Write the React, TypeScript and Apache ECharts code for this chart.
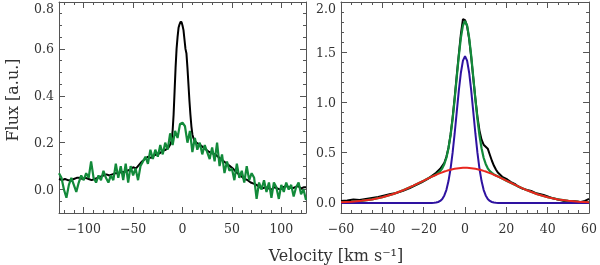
import React, { useEffect, useRef } from "react";
import * as echarts from "echarts";

// ---------- Left panel data ----------
const leftBlackX = [-125,-122,-119,-116,-113,-110,-107,-104,-101,-98,-95,-92,-89,-86,-83,-80,-77,-74,-71,-68,-65,-62,-59,-56,-53,-50,-47,-44,-41,-38,-35,-32,-29,-26,-23,-20,-17,-14,-12,-11,-10,-9,-8,-7,-6,-5,-4,-3,-2,-1,0,1,2,3,4,5,6,7,8,9,10,11,12,14,16,18,21,24,27,30,33,36,39,42,45,48,51,54,57,60,63,66,69,72,75,78,81,84,87,90,93,96,99,102,105,108,111,114,117,120,123,125];
const leftBlackY = [0.045,0.04,0.045,0.04,0.04,0.045,0.05,0.05,0.045,0.05,0.045,0.04,0.045,0.05,0.055,0.06,0.065,0.06,0.065,0.07,0.07,0.075,0.075,0.08,0.085,0.095,0.09,0.105,0.12,0.13,0.14,0.135,0.145,0.15,0.155,0.165,0.17,0.18,0.195,0.21,0.25,0.32,0.42,0.52,0.6,0.65,0.69,0.705,0.715,0.715,0.7,0.68,0.64,0.6,0.58,0.52,0.45,0.38,0.32,0.27,0.235,0.22,0.21,0.2,0.195,0.19,0.18,0.17,0.16,0.155,0.15,0.14,0.13,0.12,0.11,0.1,0.09,0.075,0.065,0.055,0.045,0.04,0.03,0.025,0.02,0.01,0.005,0.01,0.005,0.0,0.01,0.005,0.0,0.01,0.015,0.01,0.005,0.01,0.015,0.005,0.01,0.01];

const leftGreenX = [-125,-122.5,-120,-117.5,-115,-112.5,-110,-107.5,-105,-102.5,-100,-97.5,-95,-92.5,-90,-87.5,-85,-82.5,-80,-77.5,-75,-72.5,-70,-67.5,-65,-62.5,-60,-57.5,-55,-52.5,-50,-47.5,-45,-42.5,-40,-37.5,-35,-32.5,-30,-27.5,-25,-22.5,-20,-17.5,-15,-12.5,-10,-7.5,-5,-2.5,0,2.5,5,7.5,10,12.5,15,17.5,20,22.5,25,27.5,30,32.5,35,37.5,40,42.5,45,47.5,50,52.5,55,57.5,60,62.5,65,67.5,70,72.5,75,77.5,80,82.5,85,87.5,90,92.5,95,97.5,100,102.5,105,107.5,110,112.5,115,117.5,120,122.5,125];
const leftGreenY = [0.07,0.05,0.0,-0.035,0.02,0.05,0.02,-0.01,0.03,0.06,0.04,0.07,0.05,0.12,0.05,0.03,0.06,0.04,0.08,0.05,0.03,0.06,0.04,0.11,0.05,0.1,0.04,0.11,0.03,0.1,0.06,0.09,0.04,0.1,0.12,0.14,0.11,0.17,0.13,0.17,0.14,0.19,0.15,0.2,0.17,0.24,0.19,0.25,0.22,0.28,0.285,0.27,0.2,0.25,0.16,0.22,0.17,0.2,0.15,0.19,0.16,0.13,0.18,0.12,0.2,0.1,0.15,0.07,0.12,0.08,0.09,0.04,0.11,0.05,0.08,0.03,0.1,0.04,0.07,0.05,-0.04,0.03,0.0,0.04,-0.01,0.03,-0.035,0.03,0.01,-0.04,0.02,-0.01,0.03,0.0,0.02,-0.03,0.01,0.03,-0.02,0.0,-0.045];

// ---------- Right panel data ----------
const rightBlackX = [-60,-57,-54,-51,-48,-45,-42,-39,-36,-33,-30,-27,-24,-21,-18,-16,-14,-12,-10,-9,-8,-7,-6,-5,-4,-3,-2,-1,0,1,2,3,4,5,6,7,8,9,10,11,12,13,14,15,16,18,20,22,24,26,28,30,32,34,36,38,40,42,44,46,48,50,52,54,56,58,60];
const rightBlackY = [0.02,0.025,0.035,0.03,0.04,0.05,0.06,0.075,0.09,0.1,0.12,0.145,0.175,0.205,0.24,0.27,0.3,0.34,0.4,0.46,0.55,0.68,0.85,1.05,1.27,1.48,1.68,1.83,1.82,1.76,1.63,1.45,1.24,1.04,0.86,0.72,0.63,0.58,0.56,0.54,0.48,0.42,0.37,0.33,0.3,0.26,0.24,0.21,0.19,0.16,0.14,0.13,0.12,0.1,0.09,0.08,0.065,0.05,0.04,0.03,0.02,0.015,0.02,0.015,0.01,0.02,0.04];

const fitX = [-60,-55,-50,-45,-40,-35,-30,-25,-20,-18,-16,-15,-14,-13,-12,-11,-10,-9,-8,-7,-6,-5,-4,-3,-2,-1,0,1,2,3,4,5,6,7,8,9,10,11,12,13,14,15,16,18,20,25,30,35,40,45,50,55,60];
const greenFitY = [0.006,0.011,0.021,0.035,0.057,0.087,0.126,0.172,0.222,0.243,0.263,0.273,0.284,0.299,0.317,0.345,0.388,0.45,0.544,0.671,0.836,1.034,1.251,1.463,1.644,1.767,1.81,1.767,1.644,1.463,1.251,1.034,0.836,0.671,0.544,0.45,0.388,0.345,0.317,0.299,0.284,0.273,0.263,0.243,0.222,0.172,0.126,0.087,0.057,0.035,0.021,0.011,0.006];
const blueFitY = [0,0,0,0,0,0,0,0,0,0,0.0007,0.0018,0.0043,0.0096,0.02,0.04,0.075,0.131,0.218,0.34,0.5,0.694,0.907,1.117,1.296,1.417,1.46,1.417,1.296,1.117,0.907,0.694,0.5,0.34,0.218,0.131,0.075,0.04,0.02,0.0096,0.0043,0.0018,0.0007,0,0,0,0,0,0,0,0,0,0];
const redFitY = [0.006,0.011,0.021,0.035,0.057,0.087,0.126,0.172,0.222,0.2425,0.262,0.271,0.28,0.289,0.297,0.305,0.313,0.319,0.3255,0.331,0.336,0.34,0.3437,0.3464,0.3484,0.3496,0.35,0.3496,0.3484,0.3464,0.3437,0.34,0.336,0.331,0.3255,0.319,0.313,0.305,0.297,0.289,0.28,0.271,0.262,0.2425,0.222,0.172,0.126,0.087,0.057,0.035,0.021,0.011,0.006];

// ---------- Axes ----------
const leftXMajor = [-100, -50, 0, 50, 100];
const leftXMinor = [-120,-110,-100,-90,-80,-70,-60,-50,-40,-30,-20,-10,0,10,20,30,40,50,60,70,80,90,100,110,120];
const leftYMajor = [0, 0.2, 0.4, 0.6, 0.8];
const leftYMinor = [-0.1,-0.05,0,0.05,0.1,0.15,0.2,0.25,0.3,0.35,0.4,0.45,0.5,0.55,0.6,0.65,0.7,0.75,0.8];
const rightXMajor = [-60, -40, -20, 0, 20, 40, 60];
const rightXMinor = [-60,-55,-50,-45,-40,-35,-30,-25,-20,-15,-10,-5,0,5,10,15,20,25,30,35,40,45,50,55,60];
const rightYMajor = [0, 0.5, 1.0, 1.5, 2.0];
const rightYMinor = [-0.1,0,0.1,0.2,0.3,0.4,0.5,0.6,0.7,0.8,0.9,1.0,1.1,1.2,1.3,1.4,1.5,1.6,1.7,1.8,1.9,2.0];

const zip = (xs: number[], ys: number[]) => xs.map((x, i) => [x, ys[i]]);

const BOX = "#555";
const TXT = "#333";
const FONT = "DejaVu Serif";

function xAxes(grid: number, min: number, max: number, major: number[], minor: number[]) {
  const base = { type: "value", gridIndex: grid, min, max, splitLine: { show: false } };
  return [
    {
      ...base, position: "bottom",
      axisLine: { show: true, onZero: false, lineStyle: { color: BOX, width: 1 } },
      axisTick: { show: true, inside: true, length: 6, customValues: major, lineStyle: { color: BOX } },
      axisLabel: {
        show: true, customValues: major, margin: 9, color: TXT, fontFamily: FONT, fontSize: 12.5,
        formatter: (v: number) => String(v).replace("-", "\u2212"),
      },
    },
    {
      ...base, position: "bottom",
      axisLine: { show: false, onZero: false },
      axisTick: { show: true, inside: true, length: 3, customValues: minor, lineStyle: { color: BOX } },
      axisLabel: { show: false },
    },
    {
      ...base, position: "top",
      axisLine: { show: true, onZero: false, lineStyle: { color: BOX, width: 1 } },
      axisTick: { show: true, inside: true, length: 6, customValues: major, lineStyle: { color: BOX } },
      axisLabel: { show: false },
    },
    {
      ...base, position: "top",
      axisLine: { show: false, onZero: false },
      axisTick: { show: true, inside: true, length: 3, customValues: minor, lineStyle: { color: BOX } },
      axisLabel: { show: false },
    },
  ];
}

function yAxes(grid: number, min: number, max: number, major: number[], minor: number[]) {
  const base = { type: "value", gridIndex: grid, min, max, splitLine: { show: false } };
  return [
    {
      ...base, position: "left",
      axisLine: { show: true, onZero: false, lineStyle: { color: BOX, width: 1 } },
      axisTick: { show: true, inside: true, length: 6, customValues: major, lineStyle: { color: BOX } },
      axisLabel: {
        show: true, customValues: major, margin: 5, color: TXT, fontFamily: FONT, fontSize: 12.5,
        verticalAlignMaxLabel: "top",
        formatter: (v: number) => v.toFixed(1),
      },
    },
    {
      ...base, position: "left",
      axisLine: { show: false, onZero: false },
      axisTick: { show: true, inside: true, length: 3, customValues: minor, lineStyle: { color: BOX } },
      axisLabel: { show: false },
    },
    {
      ...base, position: "right",
      axisLine: { show: true, onZero: false, lineStyle: { color: BOX, width: 1 } },
      axisTick: { show: true, inside: true, length: 6, customValues: major, lineStyle: { color: BOX } },
      axisLabel: { show: false },
    },
    {
      ...base, position: "right",
      axisLine: { show: false, onZero: false },
      axisTick: { show: true, inside: true, length: 3, customValues: minor, lineStyle: { color: BOX } },
      axisLabel: { show: false },
    },
  ];
}

function line(name: string, data: number[][], color: string, width: number, xi: number, yi: number) {
  return {
    name, type: "line", data, xAxisIndex: xi, yAxisIndex: yi,
    showSymbol: false, symbol: "none", clip: true,
    lineStyle: { color, width }, emphasis: { disabled: true },
  };
}

export default function App() {
  const ref = useRef<HTMLDivElement>(null);
  useEffect(() => {
    if (!ref.current) return;
    const chart = echarts.init(ref.current, undefined, { renderer: "svg" });
    chart.setOption({
      animation: false,
      grid: [
        { left: 59, top: 2, width: 247, height: 211 },
        { left: 341, top: 2, width: 251, height: 211 },
      ],
      xAxis: [
        ...xAxes(0, -125, 125, leftXMajor, leftXMinor),
        ...xAxes(1, -60, 60, rightXMajor, rightXMinor),
      ],
      yAxis: [
        ...yAxes(0, -0.1, 0.8, leftYMajor, leftYMinor),
        ...yAxes(1, -0.1, 2.0, rightYMajor, rightYMinor),
      ],
      series: [
        line("obs", zip(leftBlackX, leftBlackY), "#000000", 2, 0, 0),
        line("obs2", zip(leftGreenX, leftGreenY), "#128a3a", 2.2, 0, 0),
        line("data", zip(rightBlackX, rightBlackY), "#000000", 2, 4, 4),
        line("fit", zip(fitX, greenFitY), "#128a3a", 2.2, 4, 4),
        line("narrow", zip(fitX, blueFitY), "#2e12a0", 2, 4, 4),
        line("broad", zip(fitX, redFitY), "#e8261e", 2, 4, 4),
      ],
      graphic: [
        {
          type: "text", x: 336, y: 255,
          style: {
            text: "Velocity [km s\u207B\u00B9]", fill: TXT, font: `16px "${FONT}"`,
            align: "center", verticalAlign: "middle",
          },
        },
        {
          type: "text", x: 12, y: 100, rotation: Math.PI / 2,
          style: {
            text: "Flux [a.u.]", fill: TXT, font: `16px "${FONT}"`,
            align: "center", verticalAlign: "middle",
          },
        },
      ],
    });
    return () => chart.dispose();
  }, []);
  return <div ref={ref} style={{ position: "fixed", left: 0, top: 0, width: 600, height: 265 }} />;
}
